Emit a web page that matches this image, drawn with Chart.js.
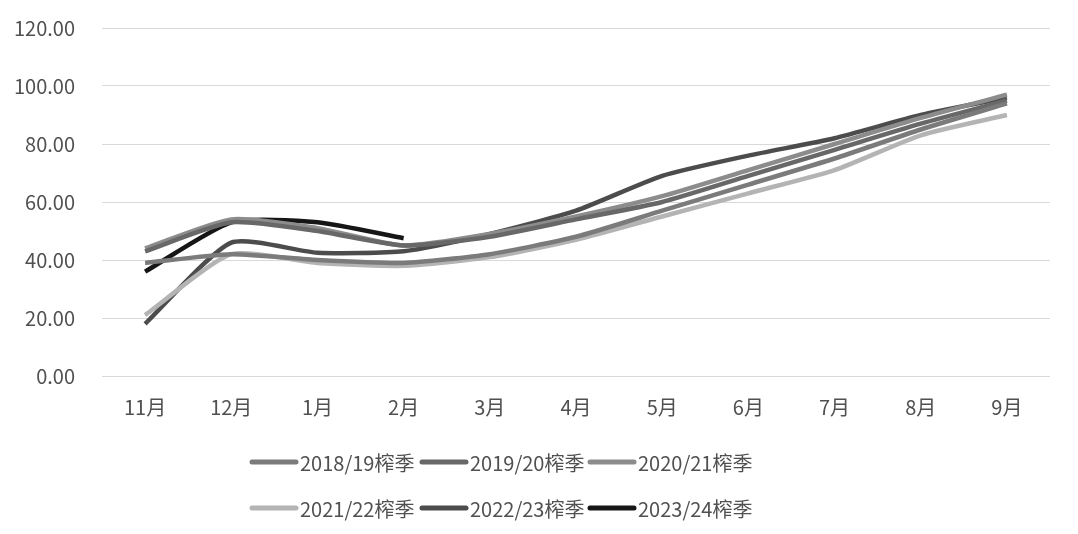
<!DOCTYPE html>
<html>
<head>
<meta charset="utf-8">
<script src="https://cdn.jsdelivr.net/npm/chart.js@4.4.1/dist/chart.umd.min.js"></script>
<style>
  html, body { margin: 0; padding: 0; background: #ffffff; }
  #wrap { width: 1078px; height: 534px; }
</style>
</head>
<body>
<div id="wrap"><canvas id="c" width="1078" height="534"></canvas></div>
<script>
const categories = ['11月', '12月', '1月', '2月', '3月', '4月', '5月', '6月', '7月', '8月', '9月'];
const seriesNames = ['2018/19榨季', '2019/20榨季', '2020/21榨季', '2021/22榨季', '2022/23榨季', '2023/24榨季'];
const s2018 = [39, 42, 40, 39, 42, 48, 57, 66, 75, 85, 94];
const s2019 = [43, 53, 50, 45, 48, 54, 60, 69, 78, 87, 95];
const s2020 = [44, 54, 51, 45, 49, 55, 62, 71, 80, 89, 97];
const s2021 = [21, 42, 39, 38, 41, 47, 55, 63, 71, 83, 90];
const s2022 = [18, 46, 42.5, 43, 49, 57, 69, 76, 82, 90, 96];
const s2023 = [36, 53, 53, 47.5, null, null, null, null, null, null, null];
const yTicks = [0, 20, 40, 60, 80, 100, 120];
const colors = ['#7b7b7b', '#686868', '#8c8c8c', '#b4b4b4', '#4c4c4c', '#161616'];

const FONT = '"Noto Sans CJK SC", "Noto Sans", sans-serif';
const seriesValues = [s2018, s2019, s2020, s2021, s2022, s2023];
const datasets = seriesNames.map((name, i) => ({
  label: name,
  data: seriesValues[i],
  borderColor: colors[i],
  backgroundColor: colors[i],
  borderWidth: 4.5,
  pointRadius: 0,
  tension: 0.2,
  fill: false,
  spanGaps: false
}));

const legendPlugin = {
  id: 'customLegend',
  afterDraw(chart) {
    const ctx = chart.ctx;
    const rows = [
      { y: 462, items: [0, 1, 2] },
      { y: 508, items: [3, 4, 5] }
    ];
    const xs = [250, 420, 588];
    ctx.save();
    ctx.font = '20px ' + FONT;
    ctx.textBaseline = 'middle';
    ctx.textAlign = 'left';
    rows.forEach(r => {
      r.items.forEach((idx, k) => {
        const ds = chart.data.datasets[idx];
        const x = xs[k];
        ctx.strokeStyle = ds.borderColor;
        ctx.lineWidth = 5;
        ctx.lineCap = 'round';
        ctx.beginPath();
        ctx.moveTo(x + 2, r.y);
        ctx.lineTo(x + 46, r.y);
        ctx.stroke();
        ctx.fillStyle = '#505050';
        ctx.fillText(ds.label, x + 50, r.y + 1);
      });
    });
    ctx.restore();
  }
};

new Chart(document.getElementById('c'), {
  type: 'line',
  data: { labels: categories, datasets },
  plugins: [legendPlugin],
  options: {
    responsive: false,
    animation: false,
    layout: { padding: { top: 28, right: 28, left: 0, bottom: 0 } },
    plugins: {
      legend: { display: false },
      tooltip: { enabled: false }
    },
    scales: {
      x: {
        type: 'category',
        offset: true,
        grid: { display: false, drawTicks: false },
        border: { display: false },
        ticks: {
          color: '#505050',
          font: { size: 20, family: FONT },
          padding: 19,
          maxRotation: 0
        },
        afterFit(scale) { scale.height = 158; scale.paddingLeft = 0; scale.paddingRight = 0; }
      },
      y: {
        min: 0,
        max: 120,
        afterBuildTicks(scale) { scale.ticks = yTicks.map(v => ({ value: v })); },
        grid: { color: '#d9d9d9', lineWidth: 1, drawTicks: false },
        border: { display: false },
        ticks: {
          color: '#505050',
          font: { size: 20, family: FONT },
          padding: 27,
          callback: v => Number(v).toFixed(2)
        },
        afterFit(scale) { scale.width = 102; scale.paddingTop = 0; scale.paddingBottom = 0; }
      }
    }
  }
});
</script>
</body>
</html>
